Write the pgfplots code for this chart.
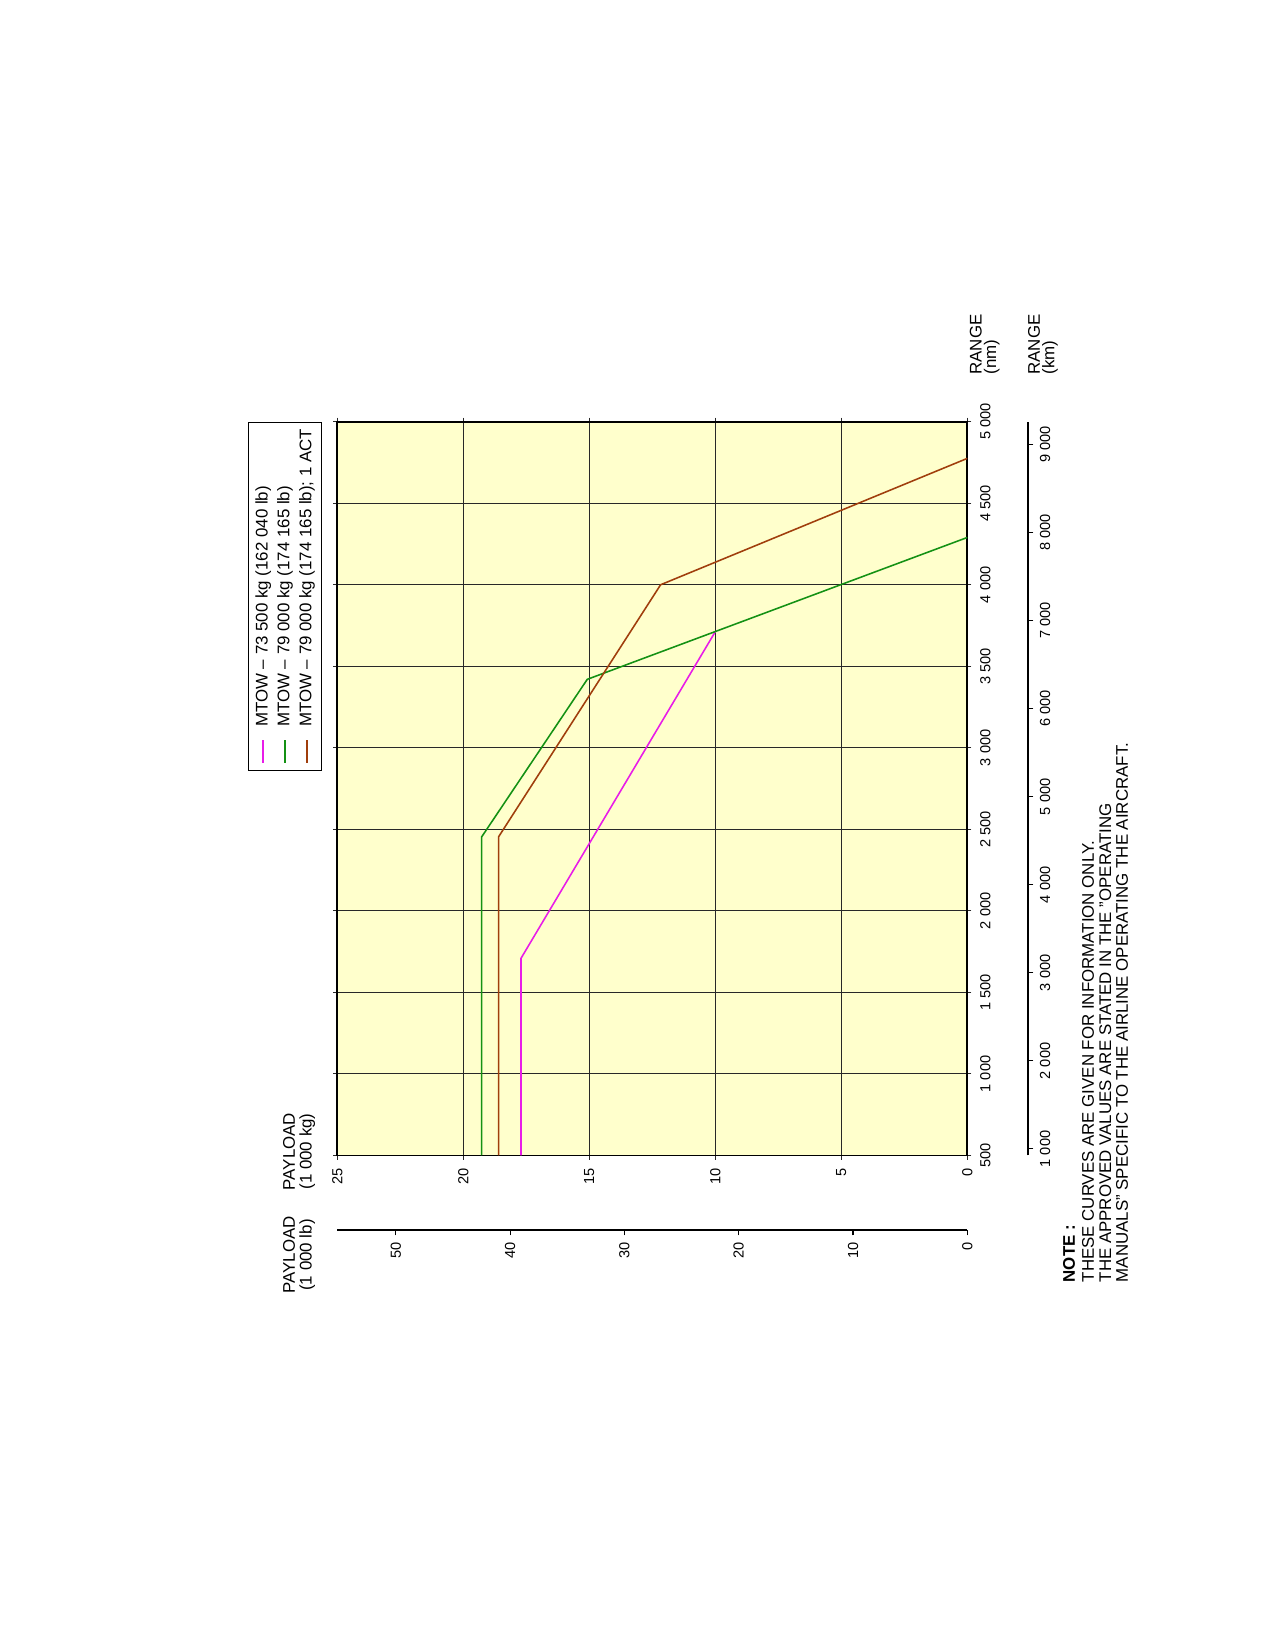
\documentclass[border=0pt]{standalone}
\usepackage{pgfplots}
\pgfplotsset{compat=1.18}
\usepackage{graphicx}
\usepackage{fontspec}
\setmainfont{Liberation Sans}
\definecolor{bgyellow}{RGB}{255,255,204}
\definecolor{cpink}{RGB}{232,28,232}
\definecolor{cgreen}{RGB}{20,145,20}
\definecolor{cbrown}{RGB}{160,62,12}
\definecolor{cgrid}{RGB}{40,40,40}
\newcommand{\tfont}{\fontsize{8.1bp}{9bp}\selectfont}
\newcommand{\kfont}{\fontsize{7bp}{8bp}\selectfont}
\begin{document}
\rotatebox{90}{%
\begin{tikzpicture}
\path[use as bounding box] (0,0) rectangle (789.6bp,612bp);
% main axis
\begin{axis}[
  at={(234.96bp,147.70bp)}, anchor=south west,
  scale only axis, width=352.22bp, height=302.4bp,
  xmin=500, xmax=5000, ymin=0, ymax=25,
  xtick={500,1000,...,5000},
  xticklabels={500,1 000,1 500,2 000,2 500,3 000,3 500,4 000,4 500,5 000},
  ytick={0,5,10,15,20,25},
  yticklabels={0,5,10,15,20,25},
  grid=major, grid style={cgrid, line width=0.5bp},
  axis line style={black, line width=0.9bp},
  axis background/.style={fill=bgyellow},
  tick align=outside, major tick length=2bp,
  tick style={cgrid, line width=0.5bp},
  ticklabel style={font=\kfont},
  xticklabel style={anchor=north, inner sep=0pt, yshift=-4bp},
  yticklabel style={anchor=east, inner sep=0pt, xshift=-4bp},
  legend style={at={(1,1)}, anchor=south east, yshift=7.2bp,
    draw=black, line width=0.5bp, fill=white, font=\tfont,
    inner xsep=3.2bp, inner ysep=3bp, row sep=2.2bp,
    nodes={inner sep=0pt, text height=6.3bp, text depth=2bp}},
  legend cell align=left,
  legend image code/.code={\draw[#1] (0bp,0bp) -- (11bp,0bp); \path (16.8bp,0bp);},
]
\addplot[cpink, line width=0.75bp] coordinates {(500,17.71) (1709,17.71) (3712,10.0)};
\addlegendentry{MTOW \textendash{} 73 500 kg (162 040 lb)}
\addplot[cgreen, line width=0.75bp] coordinates {(500,19.27) (2454,19.27) (3420,15.08) (4290,0)};
\addlegendentry{MTOW \textendash{} 79 000 kg (174 165 lb)}
\addplot[cbrown, line width=0.75bp] coordinates {(500,18.60) (2454,18.60) (4000,12.17) (4775,0)};
\addlegendentry{MTOW \textendash{} 79 000 kg (174 165 lb); 1 ACT}
\end{axis}
% payload lb axis
\begin{axis}[
  at={(199.2bp,147.70bp)}, anchor=south west,
  scale only axis, width=1bp, height=302.4bp,
  xmin=0, xmax=1, ymin=0, ymax=55.1156,
  axis y line=left, axis x line=none,
  axis line style={black, line width=1bp, -},
  ytick={0,10,20,30,40,50},
  yticklabels={0,10,20,30,40,50},
  tick align=outside, major tick length=2.6bp,
  tick style={black, line width=0.5bp},
  ticklabel style={font=\kfont},
  yticklabel style={anchor=east, inner sep=0pt, xshift=-3bp},
]
\addplot[draw=none] coordinates {(0,0) (1,1)};
\end{axis}
% range km axis
\begin{axis}[
  at={(234.96bp,118.70bp)}, anchor=south west,
  scale only axis, width=352.22bp, height=1bp,
  xmin=926, xmax=9260, ymin=0, ymax=1,
  axis x line=bottom, axis y line=none,
  axis line style={black, line width=1bp, -},
  xtick={1000,2000,...,9000},
  xticklabels={1 000,2 000,3 000,4 000,5 000,6 000,7 000,8 000,9 000},
  tick align=outside, major tick length=2.7bp,
  tick style={black, line width=0.5bp},
  ticklabel style={font=\kfont},
  xticklabel style={anchor=north, inner sep=0pt, yshift=-3bp},
]
\addplot[draw=none] coordinates {(1000,0) (2000,1)};
\end{axis}
% titles
\node[anchor=base, inner sep=0pt, font=\tfont] at (236.9bp,470.4bp) {PAYLOAD};
\node[anchor=base, inner sep=0pt, font=\tfont] at (236.9bp,462.4bp) {(1 000 kg)};
\node[anchor=base, inner sep=0pt, font=\tfont] at (187.2bp,470.4bp) {PAYLOAD};
\node[anchor=base, inner sep=0pt, font=\tfont] at (187.2bp,462.4bp) {(1 000 lb)};
\node[anchor=base west, inner sep=0pt, font=\tfont] at (609.6bp,140.8bp) {RANGE};
\node[anchor=base west, inner sep=0pt, font=\tfont] at (609.6bp,133.8bp) {(nm)};
\node[anchor=base west, inner sep=0pt, font=\tfont] at (609.6bp,112.9bp) {RANGE};
\node[anchor=base west, inner sep=0pt, font=\tfont] at (609.6bp,105.9bp) {(km)};
% note
\node[anchor=base west, inner sep=0pt, font=\tfont\bfseries] at (173.9bp,96.0bp) {NOTE :};
\node[anchor=base west, inner sep=0pt, font=\tfont] at (173.9bp,86.9bp) {THESE CURVES ARE GIVEN FOR INFORMATION ONLY.};
\node[anchor=base west, inner sep=0pt, font=\tfont] at (173.9bp,78.7bp) {THE APPROVED VALUES ARE STATED IN THE "OPERATING};
\node[anchor=base west, inner sep=0pt, font=\tfont] at (173.9bp,70.6bp) {MANUALS" SPECIFIC TO THE AIRLINE OPERATING THE AIRCRAFT.};
\end{tikzpicture}}
\end{document}
